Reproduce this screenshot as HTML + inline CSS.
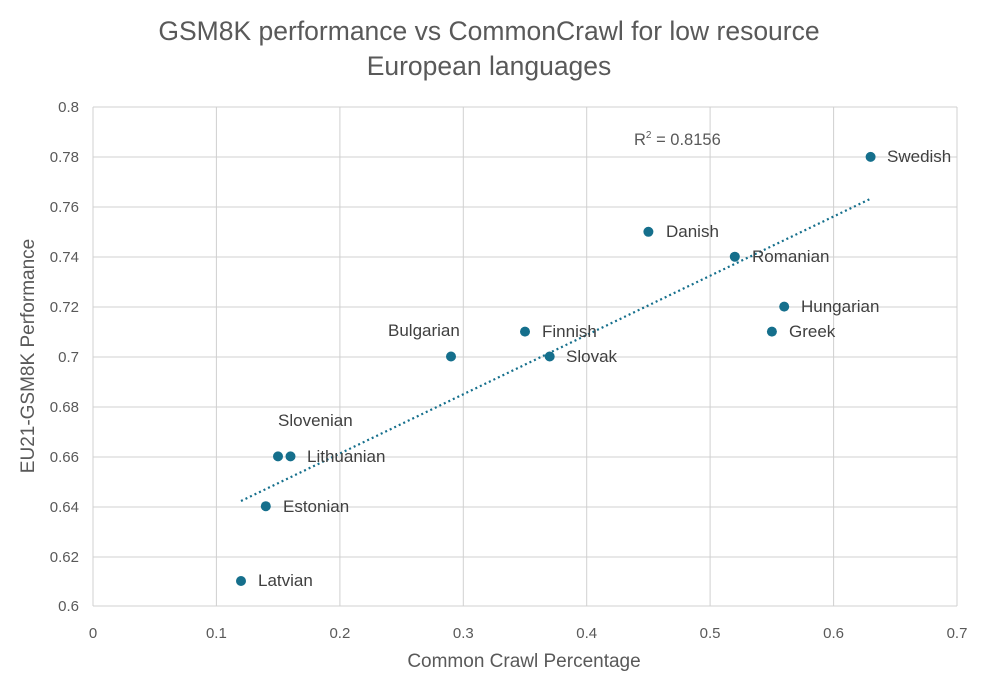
<!DOCTYPE html>
<html><head><meta charset="utf-8"><style>
html,body{margin:0;padding:0;background:#fff;}
svg{display:block;font-family:"Liberation Sans",sans-serif;}
</style></head><body>
<svg width="986" height="693" viewBox="0 0 986 693">
<rect width="986" height="693" fill="#fff"/>
<g fill="#595959" font-size="26.5" text-anchor="middle">
<text x="489" y="40">GSM8K performance vs CommonCrawl for low resource</text>
<text x="489" y="75">European languages</text>
</g>
<g stroke="#d0d0d0" stroke-width="1">
<line x1="93" y1="107" x2="957" y2="107"/><line x1="93" y1="157" x2="957" y2="157"/>
<line x1="93" y1="207" x2="957" y2="207"/><line x1="93" y1="257" x2="957" y2="257"/>
<line x1="93" y1="307" x2="957" y2="307"/><line x1="93" y1="357" x2="957" y2="357"/>
<line x1="93" y1="407" x2="957" y2="407"/><line x1="93" y1="457" x2="957" y2="457"/>
<line x1="93" y1="507" x2="957" y2="507"/><line x1="93" y1="557" x2="957" y2="557"/>
<line x1="93" y1="606" x2="957" y2="606"/>
<line x1="93" y1="107" x2="93" y2="606"/><line x1="216.4" y1="107" x2="216.4" y2="606"/>
<line x1="339.9" y1="107" x2="339.9" y2="606"/><line x1="463.3" y1="107" x2="463.3" y2="606"/>
<line x1="586.7" y1="107" x2="586.7" y2="606"/><line x1="710.1" y1="107" x2="710.1" y2="606"/>
<line x1="833.6" y1="107" x2="833.6" y2="606"/><line x1="957" y1="107" x2="957" y2="606"/>
</g>
<g fill="#595959" font-size="15" text-anchor="end">
<text x="79" y="112">0.8</text><text x="79" y="162">0.78</text><text x="79" y="212">0.76</text>
<text x="79" y="262">0.74</text><text x="79" y="312">0.72</text><text x="79" y="362">0.7</text>
<text x="79" y="412">0.68</text><text x="79" y="462">0.66</text><text x="79" y="512">0.64</text>
<text x="79" y="562">0.62</text><text x="79" y="611">0.6</text>
</g>
<g fill="#595959" font-size="15" text-anchor="middle">
<text x="93" y="638">0</text><text x="216.4" y="638">0.1</text><text x="339.9" y="638">0.2</text>
<text x="463.3" y="638">0.3</text><text x="586.7" y="638">0.4</text><text x="710.1" y="638">0.5</text>
<text x="833.6" y="638">0.6</text><text x="957" y="638">0.7</text>
</g>
<text x="524" y="667" fill="#595959" font-size="19" text-anchor="middle">Common Crawl Percentage</text>
<text transform="translate(34,356) rotate(-90)" fill="#595959" font-size="19" text-anchor="middle">EU21-GSM8K Performance</text>
<line x1="241" y1="501" x2="870" y2="199" stroke="#156f8c" stroke-width="2.2" stroke-dasharray="2,3"/>
<g fill="#156f8c">
<circle cx="870.6" cy="156.9" r="5"/><circle cx="648.4" cy="231.8" r="5"/>
<circle cx="734.8" cy="256.7" r="5"/><circle cx="784.2" cy="306.6" r="5"/>
<circle cx="771.9" cy="331.6" r="5"/><circle cx="525" cy="331.6" r="5"/>
<circle cx="549.7" cy="356.5" r="5"/><circle cx="451" cy="356.5" r="5"/>
<circle cx="278" cy="456.4" r="5"/><circle cx="290.5" cy="456.4" r="5"/>
<circle cx="265.8" cy="506.2" r="5"/><circle cx="241" cy="581" r="5"/>
</g>
<g fill="#404040" font-size="17">
<text x="887" y="162">Swedish</text><text x="666" y="237">Danish</text>
<text x="752" y="262">Romanian</text><text x="801" y="312">Hungarian</text>
<text x="789" y="337">Greek</text><text x="542" y="337">Finnish</text>
<text x="566" y="362">Slovak</text><text x="388" y="336">Bulgarian</text>
<text x="278" y="426">Slovenian</text><text x="307" y="462">Lithuanian</text>
<text x="283" y="512">Estonian</text><text x="258" y="586">Latvian</text>
</g>
<text x="634" y="145" fill="#595959" font-size="16.5">R<tspan dy="-7" font-size="10">2</tspan><tspan dy="7"> = 0.8156</tspan></text>
</svg>
</body></html>
